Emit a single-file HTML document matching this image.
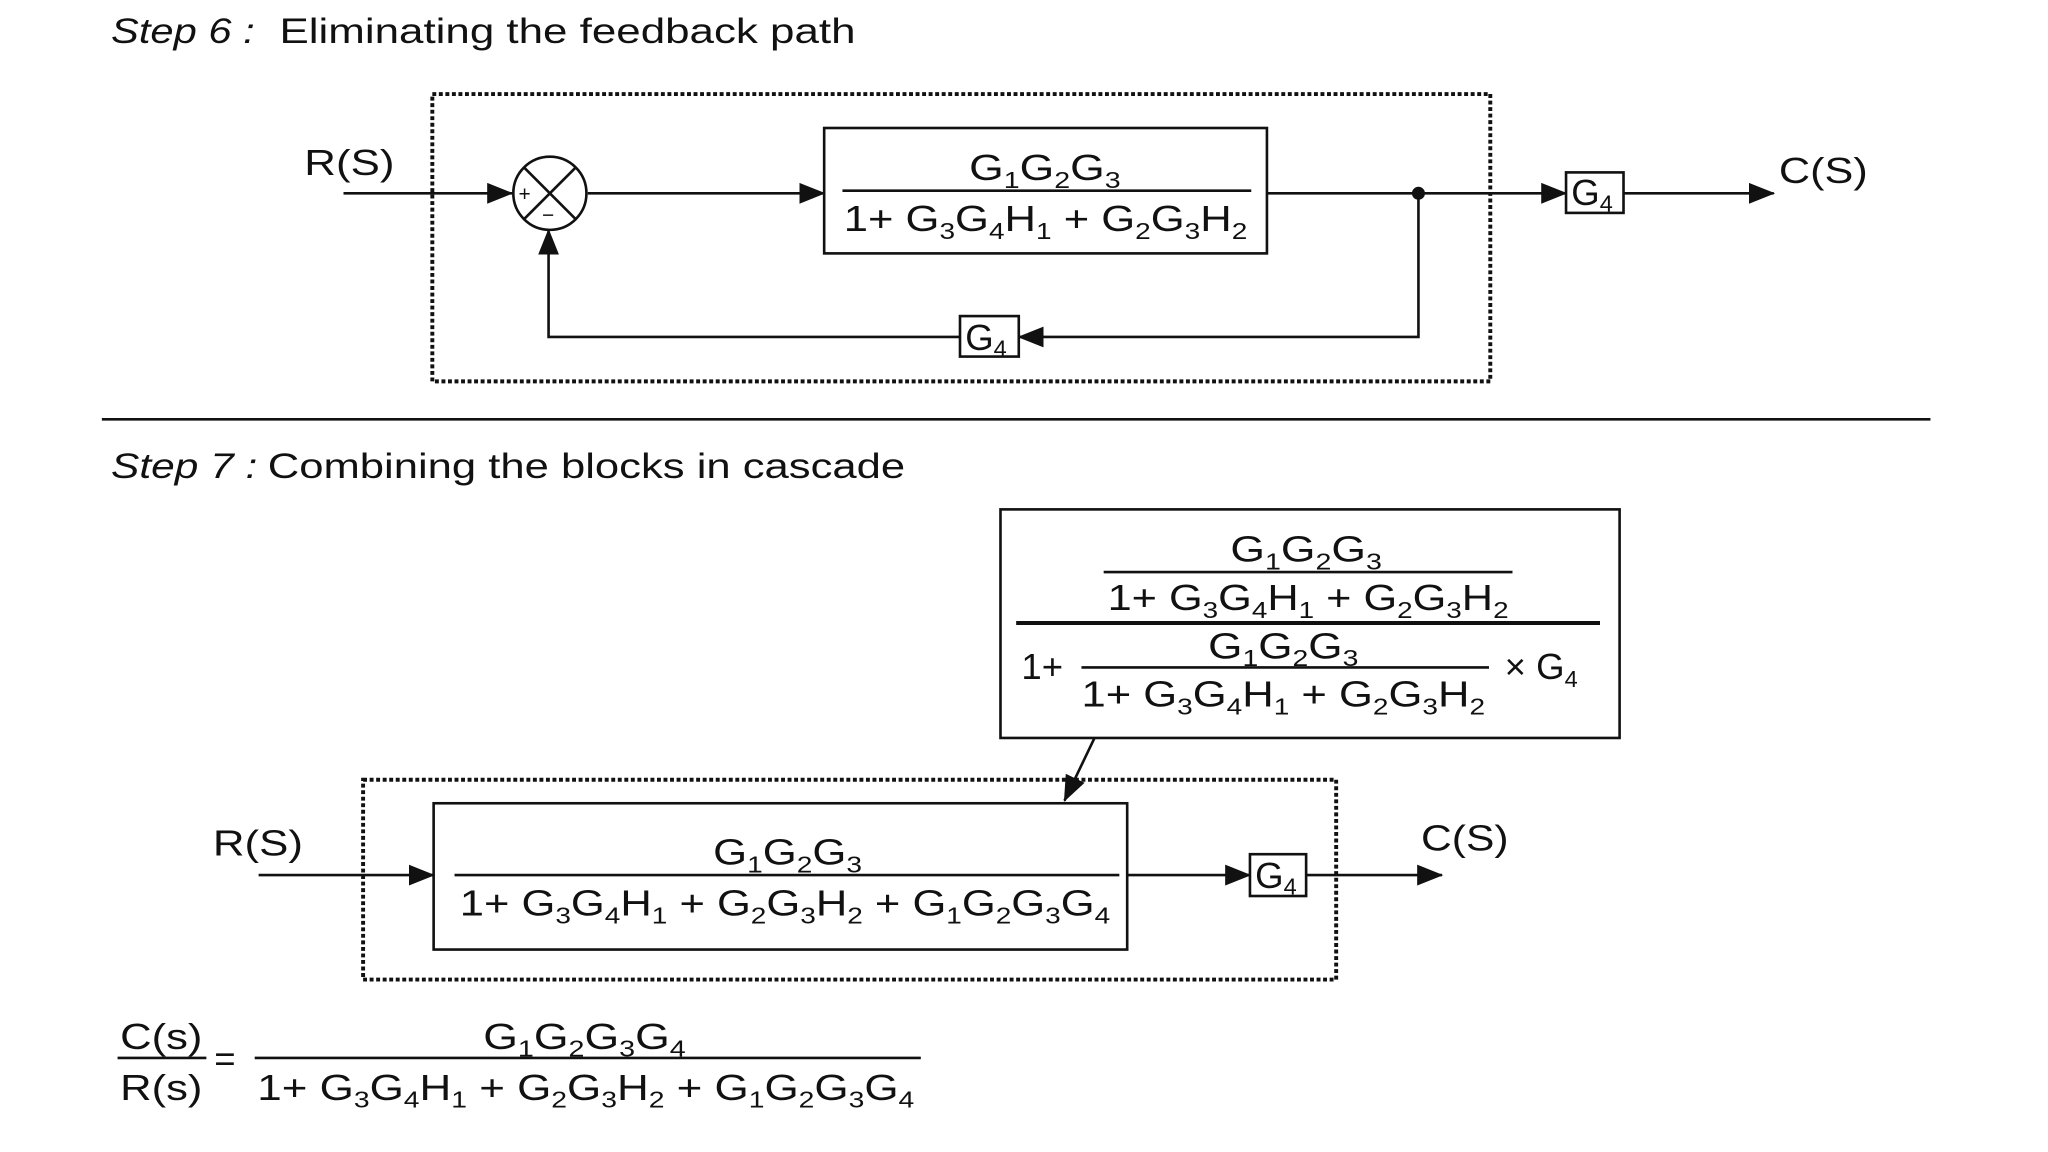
<!DOCTYPE html>
<html><head><meta charset="utf-8"><style>
html,body{margin:0;padding:0;background:#fff;}
svg{display:block;}
text{font-family:"Liberation Sans Narrow","Liberation Sans",sans-serif;fill:#111;}
.s{font-size:18px;}
</style></head><body>
<svg width="2048" height="1152" viewBox="0 0 1568 882" xmlns="http://www.w3.org/2000/svg">
<defs>
<marker id="a" markerWidth="10" markerHeight="10" refX="9" refY="5" orient="auto" markerUnits="userSpaceOnUse" viewBox="0 0 10 10"><path d="M0,0 L10,5 L0,10 z" fill="#111"/></marker>
<marker id="b" markerWidth="20" markerHeight="16" refX="19" refY="8" orient="auto" markerUnits="userSpaceOnUse" viewBox="0 0 20 16"><path d="M0,0 L20,8 L0,16 z" fill="#111"/></marker>
</defs>
<rect width="1568" height="882" fill="#fff"/>
<g stroke="#111" fill="none" stroke-width="2">
<!-- Step 6 -->
<rect x="331" y="72" width="810" height="220" stroke-dasharray="3,2" stroke-width="3"/>
<line x1="263" y1="148" x2="392" y2="148" marker-end="url(#b)"/>
<circle cx="421" cy="148" r="28"/>
<line x1="401" y1="128" x2="441" y2="168"/><line x1="441" y1="128" x2="401" y2="168"/>
<line x1="450" y1="148" x2="631" y2="148" marker-end="url(#b)"/>
<rect x="631" y="98" width="339" height="96"/>
<line x1="645" y1="146" x2="958" y2="146"/>
<line x1="970" y1="148" x2="1199" y2="148" marker-end="url(#b)"/>
<rect x="1199" y="132" width="44" height="31"/>
<line x1="1243" y1="148" x2="1358" y2="148" marker-end="url(#b)"/>
<polyline points="1086,148 1086,258 780,258" marker-end="url(#b)"/>
<rect x="735" y="242" width="45" height="31"/>
<polyline points="735,258 420,258 420,176" marker-end="url(#b)"/>
<line x1="78" y1="321" x2="1478" y2="321"/>
<!-- Step 7 -->
<rect x="766" y="390" width="474" height="175"/>
<line x1="845" y1="438" x2="1158" y2="438"/>
<line x1="778" y1="477" x2="1225" y2="477" stroke-width="3"/>
<line x1="828" y1="511" x2="1140" y2="511"/>
<line x1="838" y1="565" x2="815" y2="613" marker-end="url(#b)"/>
<rect x="278" y="597" width="745" height="153" stroke-dasharray="3,2" stroke-width="3"/>
<rect x="332" y="615" width="531" height="112"/>
<line x1="348" y1="670" x2="857" y2="670"/>
<line x1="198" y1="670" x2="332" y2="670" marker-end="url(#b)"/>
<line x1="863" y1="670" x2="957" y2="670" marker-end="url(#b)"/>
<rect x="957" y="654" width="43" height="32"/>
<line x1="1000" y1="670" x2="1104" y2="670" marker-end="url(#b)"/>
<line x1="90" y1="810" x2="158" y2="810"/>
<line x1="195" y1="810" x2="705" y2="810"/>
</g>
<circle cx="1086" cy="148" r="5" fill="#111"/>
<text x="397" y="154" font-size="16">+</text>
<text x="415" y="170" font-size="16">−</text>

<text x="85" y="33" font-size="27" font-style="italic" textLength="110" lengthAdjust="spacingAndGlyphs">Step 6 :</text>
<text x="214" y="33" font-size="27" textLength="441" lengthAdjust="spacingAndGlyphs">Eliminating the feedback path</text>
<text x="85" y="366" font-size="27" font-style="italic" textLength="112" lengthAdjust="spacingAndGlyphs">Step 7 :</text>
<text x="205" y="366" font-size="27" textLength="488" lengthAdjust="spacingAndGlyphs">Combining the blocks in cascade</text>

<g font-size="28">
<text x="233" y="134" textLength="69" lengthAdjust="spacingAndGlyphs">R(S)</text>
<text x="1362" y="140" textLength="68" lengthAdjust="spacingAndGlyphs">C(S)</text>
<text x="163" y="655" textLength="69" lengthAdjust="spacingAndGlyphs">R(S)</text>
<text x="1088" y="651" textLength="67" lengthAdjust="spacingAndGlyphs">C(S)</text>

<text x="1203" y="157">G<tspan class="s" dy="5">4</tspan></text>
<text x="739" y="268">G<tspan class="s" dy="5">4</tspan></text>
<text x="961" y="680">G<tspan class="s" dy="5">4</tspan></text>

<text x="742" y="138" textLength="116" lengthAdjust="spacingAndGlyphs">G<tspan class="s" dy="6">1</tspan><tspan dy="-6">G</tspan><tspan class="s" dy="6">2</tspan><tspan dy="-6">G</tspan><tspan class="s" dy="6">3</tspan></text>
<text x="646" y="177" textLength="309" lengthAdjust="spacingAndGlyphs">1+ G<tspan class="s" dy="6">3</tspan><tspan dy="-6">G</tspan><tspan class="s" dy="6">4</tspan><tspan dy="-6">H</tspan><tspan class="s" dy="6">1</tspan><tspan dy="-6"> + G</tspan><tspan class="s" dy="6">2</tspan><tspan dy="-6">G</tspan><tspan class="s" dy="6">3</tspan><tspan dy="-6">H</tspan><tspan class="s" dy="6">2</tspan></text>

<text x="942" y="430" textLength="116" lengthAdjust="spacingAndGlyphs">G<tspan class="s" dy="6">1</tspan><tspan dy="-6">G</tspan><tspan class="s" dy="6">2</tspan><tspan dy="-6">G</tspan><tspan class="s" dy="6">3</tspan></text>
<text x="848" y="467" textLength="307" lengthAdjust="spacingAndGlyphs">1+ G<tspan class="s" dy="6">3</tspan><tspan dy="-6">G</tspan><tspan class="s" dy="6">4</tspan><tspan dy="-6">H</tspan><tspan class="s" dy="6">1</tspan><tspan dy="-6"> + G</tspan><tspan class="s" dy="6">2</tspan><tspan dy="-6">G</tspan><tspan class="s" dy="6">3</tspan><tspan dy="-6">H</tspan><tspan class="s" dy="6">2</tspan></text>
<text x="925" y="504" textLength="115" lengthAdjust="spacingAndGlyphs">G<tspan class="s" dy="6">1</tspan><tspan dy="-6">G</tspan><tspan class="s" dy="6">2</tspan><tspan dy="-6">G</tspan><tspan class="s" dy="6">3</tspan></text>
<text x="782" y="520">1+</text>
<text x="828" y="541" textLength="309" lengthAdjust="spacingAndGlyphs">1+ G<tspan class="s" dy="6">3</tspan><tspan dy="-6">G</tspan><tspan class="s" dy="6">4</tspan><tspan dy="-6">H</tspan><tspan class="s" dy="6">1</tspan><tspan dy="-6"> + G</tspan><tspan class="s" dy="6">2</tspan><tspan dy="-6">G</tspan><tspan class="s" dy="6">3</tspan><tspan dy="-6">H</tspan><tspan class="s" dy="6">2</tspan></text>
<text x="1152" y="520">× G<tspan class="s" dy="6">4</tspan></text>

<text x="546" y="662" textLength="114" lengthAdjust="spacingAndGlyphs">G<tspan class="s" dy="6">1</tspan><tspan dy="-6">G</tspan><tspan class="s" dy="6">2</tspan><tspan dy="-6">G</tspan><tspan class="s" dy="6">3</tspan></text>
<text x="352" y="701" textLength="498" lengthAdjust="spacingAndGlyphs">1+ G<tspan class="s" dy="6">3</tspan><tspan dy="-6">G</tspan><tspan class="s" dy="6">4</tspan><tspan dy="-6">H</tspan><tspan class="s" dy="6">1</tspan><tspan dy="-6"> + G</tspan><tspan class="s" dy="6">2</tspan><tspan dy="-6">G</tspan><tspan class="s" dy="6">3</tspan><tspan dy="-6">H</tspan><tspan class="s" dy="6">2</tspan><tspan dy="-6"> + G</tspan><tspan class="s" dy="6">1</tspan><tspan dy="-6">G</tspan><tspan class="s" dy="6">2</tspan><tspan dy="-6">G</tspan><tspan class="s" dy="6">3</tspan><tspan dy="-6">G</tspan><tspan class="s" dy="6">4</tspan></text>

<text x="92" y="803" textLength="63" lengthAdjust="spacingAndGlyphs">C(s)</text>
<text x="92" y="842" textLength="63" lengthAdjust="spacingAndGlyphs">R(s)</text>
<text x="164" y="820">=</text>
<text x="370" y="803" textLength="155" lengthAdjust="spacingAndGlyphs">G<tspan class="s" dy="6">1</tspan><tspan dy="-6">G</tspan><tspan class="s" dy="6">2</tspan><tspan dy="-6">G</tspan><tspan class="s" dy="6">3</tspan><tspan dy="-6">G</tspan><tspan class="s" dy="6">4</tspan></text>
<text x="197" y="842" textLength="503" lengthAdjust="spacingAndGlyphs">1+ G<tspan class="s" dy="6">3</tspan><tspan dy="-6">G</tspan><tspan class="s" dy="6">4</tspan><tspan dy="-6">H</tspan><tspan class="s" dy="6">1</tspan><tspan dy="-6"> + G</tspan><tspan class="s" dy="6">2</tspan><tspan dy="-6">G</tspan><tspan class="s" dy="6">3</tspan><tspan dy="-6">H</tspan><tspan class="s" dy="6">2</tspan><tspan dy="-6"> + G</tspan><tspan class="s" dy="6">1</tspan><tspan dy="-6">G</tspan><tspan class="s" dy="6">2</tspan><tspan dy="-6">G</tspan><tspan class="s" dy="6">3</tspan><tspan dy="-6">G</tspan><tspan class="s" dy="6">4</tspan></text>
</g>
</svg>
</body></html>
